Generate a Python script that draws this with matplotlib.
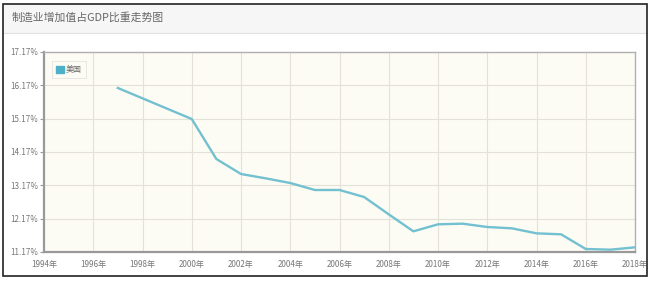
import matplotlib
matplotlib.use("Agg")
import matplotlib.pyplot as plt
from matplotlib.patches import Rectangle, Patch
from matplotlib.lines import Line2D

plt.rcParams['font.family'] = ['Noto Sans CJK SC', 'DejaVu Sans']

title = "制造业增加值占GDP比重走势图"
series_name = "美国"
years = [1997, 1998, 1999, 2000, 2001, 2002, 2003, 2004, 2005, 2006, 2007,
         2008, 2009, 2010, 2011, 2012, 2013, 2014, 2015, 2016, 2017, 2018]
values = [16.09, 15.78, 15.47, 15.16, 13.96, 13.51, 13.38, 13.24, 13.03, 13.03, 12.82,
          12.30, 11.79, 12.00, 12.02, 11.92, 11.88, 11.73, 11.70, 11.26, 11.24, 11.31]
yticks = [11.17, 12.17, 13.17, 14.17, 15.17, 16.17, 17.17]
xticks = list(range(1994, 2019, 2))

W, H = 651, 281
fig = plt.figure(figsize=(W / 100, H / 100), dpi=100)
fig.patch.set_facecolor("white")

# outer border and title bar
fig.patches.append(Rectangle((3 / W, 1 - 33 / H), 644 / W, 29 / H, transform=fig.transFigure,
                             facecolor="#f6f6f6", edgecolor="none", zorder=0))
fig.lines.append(Line2D([3 / W, 647 / W], [1 - 33 / H, 1 - 33 / H], transform=fig.transFigure,
                        color="#e2e2e2", lw=0.8))
fig.patches.append(Rectangle((3 / W, 1 - 276 / H), 644 / W, 272 / H, transform=fig.transFigure,
                             facecolor="none", edgecolor="#222222", lw=1.2, zorder=5))
fig.text(12 / W, 1 - 18 / H, title, fontsize=7.8, color="#666666", va="center", ha="left")

ax = fig.add_axes([44 / W, 1 - 252 / H, (635 - 44) / W, (252 - 52) / H])
ax.set_facecolor("#fdfcf4")
ax.plot(years, values, color="#72c0d0", lw=1.7, zorder=3, solid_joinstyle="round")

ax.set_xlim(1994, 2018)
ax.set_ylim(11.17, 17.17)
ax.set_yticks(yticks)
ax.set_yticklabels([f"{v:.2f}%" for v in yticks])
ax.set_xticks(xticks)
ax.set_xticklabels([f"{y}年" for y in xticks])
ax.grid(True, color="#e4e1d6", lw=0.8)
ax.tick_params(axis="y", length=3, width=0.8, color="#999999", labelsize=5.8,
               labelcolor="#777777", pad=1)
ax.tick_params(axis="x", length=0, labelsize=5.8, labelcolor="#777777", pad=6)

for side in ["left", "bottom"]:
    ax.spines[side].set_color("#999999")
    ax.spines[side].set_linewidth(1.6)
for side in ["top", "right"]:
    ax.spines[side].set_color("#b0b0b0")
    ax.spines[side].set_linewidth(1.0)

leg = ax.legend(handles=[Patch(facecolor="#4bb0c8", edgecolor="#4bb0c8", label=series_name)],
                loc="upper left", bbox_to_anchor=(8 / 591, 1 - 9 / 200), fontsize=5.8,
                frameon=True, fancybox=False, handlelength=1.0, handleheight=1.0,
                handletextpad=0.2, borderpad=0.5, borderaxespad=0)
leg.get_frame().set_edgecolor("#dddddd")
leg.get_frame().set_linewidth(0.6)
leg.get_frame().set_facecolor("#fdfcf4")
for t in leg.get_texts():
    t.set_color("#666666")

fig.savefig("out.png", dpi=100)
